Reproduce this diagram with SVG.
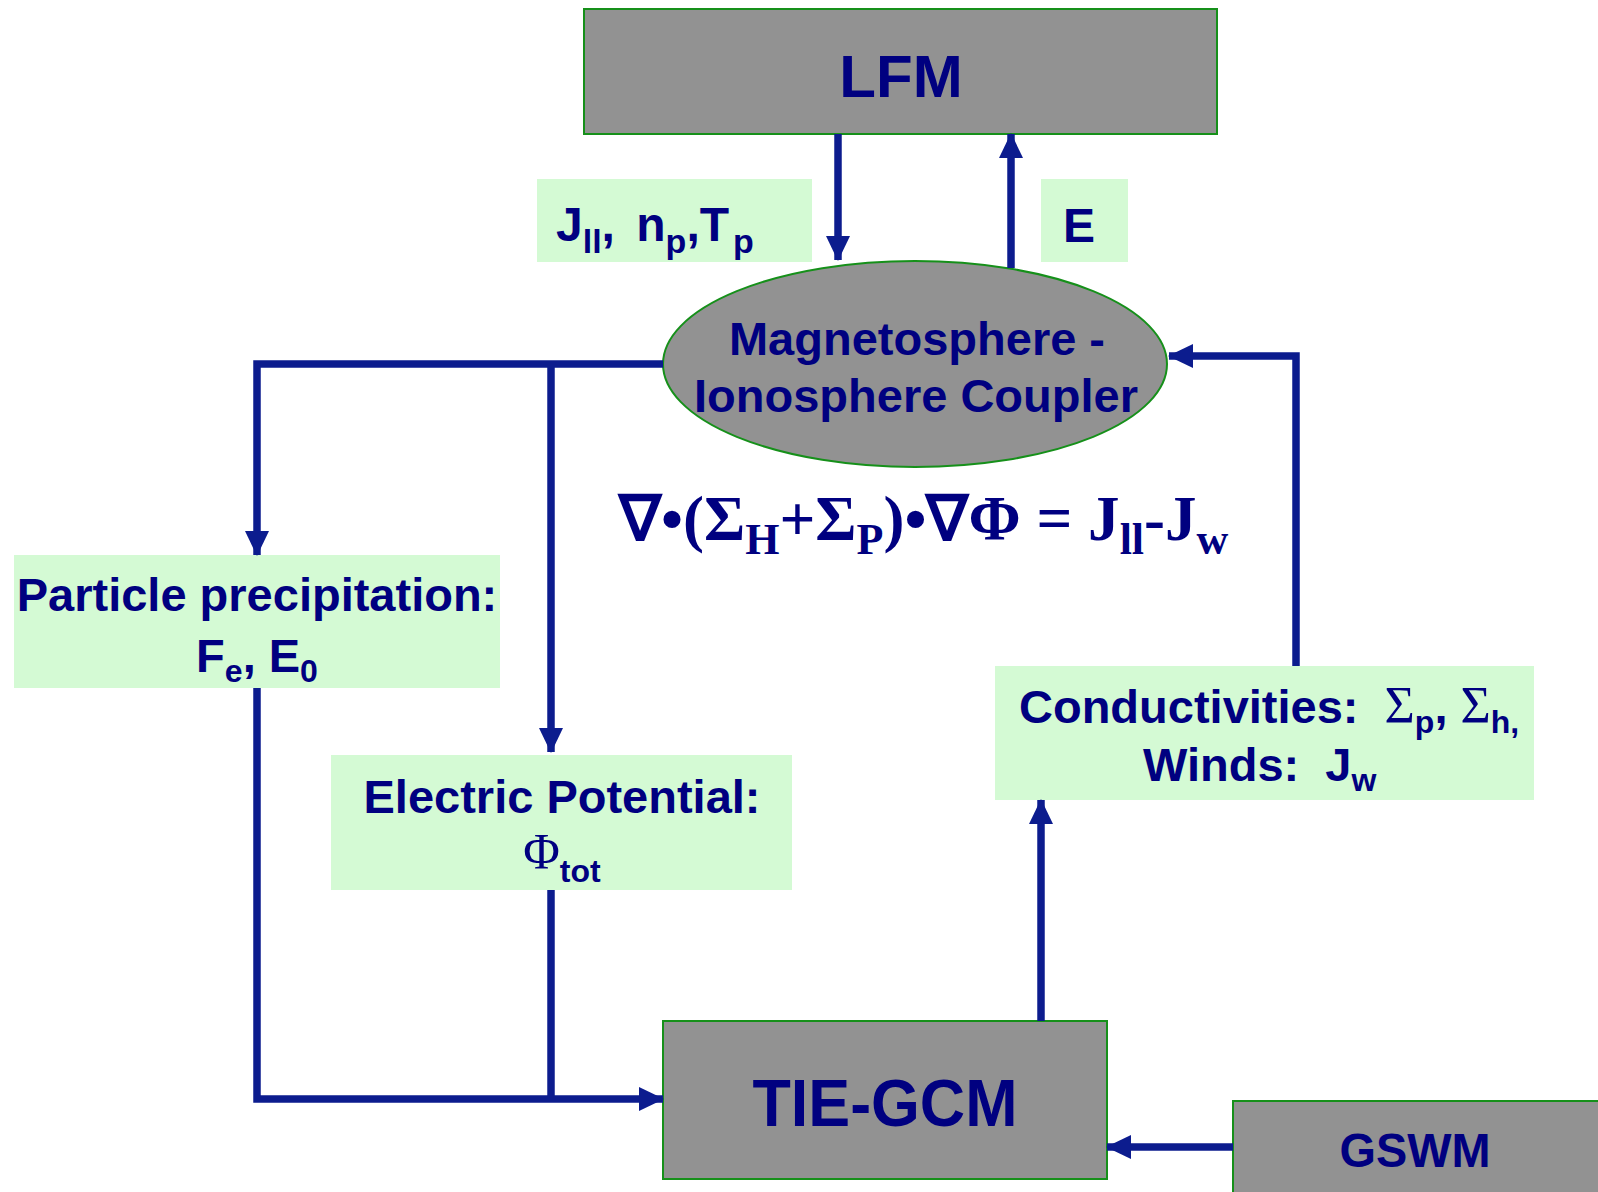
<svg xmlns="http://www.w3.org/2000/svg" width="1598" height="1192" viewBox="0 0 1598 1192">
<defs>
<marker id="ah" markerUnits="userSpaceOnUse" markerWidth="26" markerHeight="26" viewBox="0 0 26 26" refX="24" refY="13" orient="auto">
<path d="M0,1 L25,13 L0,25 Z" fill="#0c1c8e"/>
</marker>
<style>
.gray{fill:#929292;stroke:#16901a;stroke-width:2}
.lab{fill:#d4fad4}
.t{font-family:"Liberation Sans",Arial,sans-serif;font-weight:bold;fill:#000080}
.s{font-family:"Liberation Serif","Times New Roman",serif;fill:#000080}
.ln{fill:none;stroke:#0c1c8e;stroke-width:7.5}
</style>
</defs>
<rect width="1598" height="1192" fill="#ffffff"/>

<g id="lfm">
<rect class="gray" x="584" y="9" width="633" height="125"/>
<text class="t" x="901" y="97" font-size="60" text-anchor="middle">LFM</text>
</g>

<g id="label-j">
<rect class="lab" x="537" y="179" width="275" height="83"/>
<text class="t" x="556" y="241" font-size="48">J<tspan font-size="34" dy="12">ll</tspan><tspan dy="-12">,</tspan><tspan dx="8"> n</tspan><tspan font-size="34" dy="12">p</tspan><tspan dy="-12">,T</tspan><tspan font-size="34" dy="12" dx="4">p</tspan></text>
</g>

<g id="label-e">
<rect class="lab" x="1041" y="179" width="87" height="83"/>
<text class="t" x="1063" y="242" font-size="48">E</text>
</g>

<g id="coupler">
<ellipse class="gray" cx="915" cy="364" rx="252" ry="103"/>
<text class="t" x="917" y="355" font-size="47" text-anchor="middle">Magnetosphere -</text>
<text class="t" x="916" y="412" font-size="47" text-anchor="middle">Ionosphere Coupler</text>
</g>

<g id="equation">
<text class="s" x="619" y="540" font-size="63" font-weight="bold">∇•(Σ<tspan font-size="44" dy="14">H</tspan><tspan dy="-14">+Σ</tspan><tspan font-size="44" dy="14">P</tspan><tspan dy="-14">)•∇Φ = J</tspan><tspan font-size="44" dy="14">ll</tspan><tspan dy="-14">-J</tspan><tspan font-size="44" dy="14">w</tspan></text>
</g>

<g id="particle">
<rect class="lab" x="14" y="555" width="486" height="133"/>
<text class="t" x="257" y="611" font-size="47" text-anchor="middle">Particle precipitation:</text>
<text class="t" x="257" y="672" font-size="47" text-anchor="middle">F<tspan font-size="32" dy="10">e</tspan><tspan dy="-10">, E</tspan><tspan font-size="32" dy="10">0</tspan></text>
</g>

<g id="electric">
<rect class="lab" x="331" y="755" width="461" height="135"/>
<text class="t" x="562" y="813" font-size="47" text-anchor="middle">Electric Potential:</text>
<text x="562" y="868" font-size="50" text-anchor="middle"><tspan class="s">Φ</tspan><tspan class="t" font-size="32" dy="14">tot</tspan></text>
</g>

<g id="conductivities">
<rect class="lab" x="995" y="666" width="539" height="134"/>
<text x="1019" y="723" font-size="47"><tspan class="t">Conductivities:&#160; </tspan><tspan class="s" font-size="52">Σ</tspan><tspan class="t" font-size="32" dy="10">p</tspan><tspan class="t" dy="-10">, </tspan><tspan class="s" font-size="52">Σ</tspan><tspan class="t" font-size="32" dy="10">h,</tspan></text>
<text class="t" x="1143" y="781" font-size="47">Winds:&#160; J<tspan font-size="32" dy="10">w</tspan></text>
</g>

<g id="tiegcm">
<rect class="gray" x="663" y="1021" width="444" height="158"/>
<text class="t" x="885" y="1126" font-size="66" text-anchor="middle" textLength="265" lengthAdjust="spacingAndGlyphs">TIE-GCM</text>
</g>

<g id="gswm">
<rect class="gray" x="1233" y="1101" width="370" height="100"/>
<text class="t" x="1415" y="1167" font-size="48" text-anchor="middle" textLength="151" lengthAdjust="spacingAndGlyphs">GSWM</text>
</g>

<g id="connectors">
<line class="ln" x1="838" y1="134" x2="838" y2="260" marker-end="url(#ah)"/>
<line class="ln" x1="1011" y1="268" x2="1011" y2="134" marker-end="url(#ah)"/>
<polyline class="ln" points="663,364 257,364 257,555" marker-end="url(#ah)"/>
<line class="ln" x1="551" y1="364" x2="551" y2="752" marker-end="url(#ah)"/>
<polyline class="ln" points="257,688 257,1099 663,1099" marker-end="url(#ah)"/>
<line class="ln" x1="551" y1="890" x2="551" y2="1099"/>
<line class="ln" x1="1041" y1="1021" x2="1041" y2="800" marker-end="url(#ah)"/>
<polyline class="ln" points="1296,666 1296,356 1169,356" marker-end="url(#ah)"/>
<line class="ln" x1="1233" y1="1147" x2="1107" y2="1147" marker-end="url(#ah)"/>
</g>
</svg>
